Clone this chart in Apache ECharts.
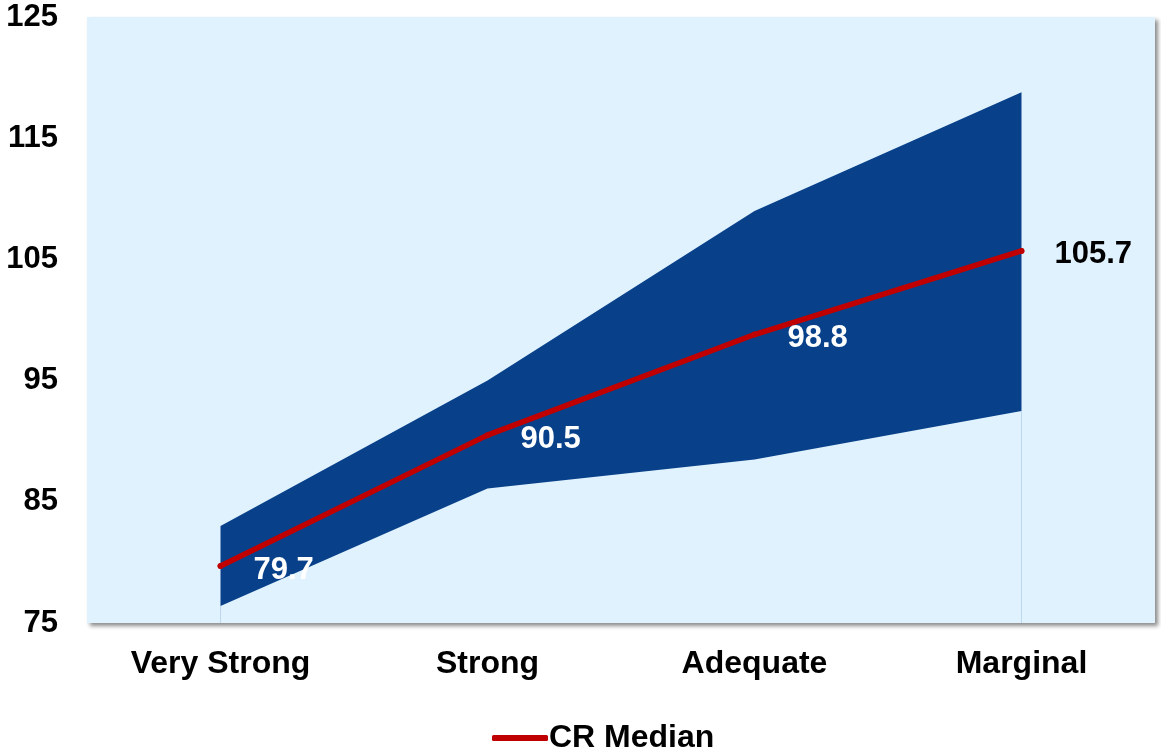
<!DOCTYPE html>
<html>
<head>
<meta charset="utf-8">
<script src="https://cdn.jsdelivr.net/npm/echarts@6/dist/echarts.min.js"></script>
<style>
  html, body { margin: 0; padding: 0; background: #ffffff; }
  #chart { width: 1161px; height: 753px; }
</style>
</head>
<body>
<div id="chart"></div>
<script>
// Capital ratio by rating bucket: range (low–high) and median
const categories = ['Very Strong', 'Strong', 'Adequate', 'Marginal'];
const rangeLow  = [76.4, 86.1, 88.5, 92.5];
const rangeHigh = [83.0, 95.0, 109.0, 118.8];
const median    = [79.7, 90.5, 98.8, 105.7];
const yTicks    = [75, 85, 95, 105, 115, 125];

const FONT = '"Liberation Sans", Arial, sans-serif';
const bandSpan = rangeHigh.map((h, i) => +(h - rangeLow[i]).toFixed(2));
const labelColors = ['#ffffff', '#ffffff', '#ffffff', '#000000'];

const chart = echarts.init(document.getElementById('chart'), null, { renderer: 'canvas' });

chart.setOption({
  animation: false,
  backgroundColor: '#ffffff',
  grid: {
    left: 87, right: 6, top: 17, bottom: 130,
    show: true,
    backgroundColor: '#E0F2FE',
    borderWidth: 0,
    shadowColor: 'rgba(0,0,0,0.45)',
    shadowBlur: 4,
    shadowOffsetX: 3,
    shadowOffsetY: 3
  },
  legend: {
    data: ['CR Median'],
    left: 487,
    top: 717,
    icon: 'roundRect',
    itemWidth: 56,
    itemHeight: 6,
    itemGap: 10,
    textStyle: { fontFamily: FONT, fontWeight: 'bold', fontSize: 32, color: '#000000', padding: [0, 0, 0, -4] }
  },
  xAxis: {
    type: 'category',
    data: categories,
    boundaryGap: true,
    axisLine: { show: false },
    axisTick: { show: false },
    axisLabel: { margin: 25, fontFamily: FONT, fontWeight: 'bold', fontSize: 32, color: '#000000' },
    splitLine: { show: false }
  },
  yAxis: {
    type: 'value',
    min: yTicks[0],
    max: yTicks[yTicks.length - 1],
    interval: 10,
    axisLine: { show: false },
    axisTick: { show: false },
    splitLine: { show: false },
    axisLabel: {
      margin: 29, fontFamily: FONT, fontWeight: 'bold', fontSize: 31, color: '#000000',
      padding: [8, 0, 0, 0]
    }
  },
  series: [
    {
      name: 'Low',
      type: 'line',
      stack: 'range',
      data: rangeLow,
      symbol: 'none',
      lineStyle: { width: 0, opacity: 0 },
      areaStyle: { color: 'rgba(0,0,0,0)' },
      silent: true,
      markLine: {
        silent: true,
        symbol: 'none',
        label: { show: false },
        lineStyle: { color: '#BCD7EE', width: 1, type: 'solid' },
        data: [
          [{ coord: [categories[0], yTicks[0]] }, { coord: [categories[0], rangeLow[0]] }],
          [{ coord: [categories[3], yTicks[0]] }, { coord: [categories[3], rangeLow[3]] }]
        ]
      }
    },
    {
      name: 'Range',
      type: 'line',
      stack: 'range',
      data: bandSpan,
      symbol: 'none',
      lineStyle: { width: 0, opacity: 0 },
      areaStyle: { color: '#08418A', opacity: 1 },
      silent: true
    },
    {
      name: 'CR Median',
      type: 'line',
      data: median.map((v, i) => ({
        value: v,
        label: { color: labelColors[i] }
      })),
      symbol: 'circle',
      symbolSize: 6,
      showSymbol: true,
      color: '#C00000',
      itemStyle: { color: '#C00000', borderWidth: 0 },
      lineStyle: { color: '#C00000', width: 5.5, cap: 'round', join: 'round' },
      label: {
        show: true,
        position: 'right',
        distance: 30,
        offset: [0, 4],
        fontFamily: FONT,
        fontWeight: 'bold',
        fontSize: 31,
        formatter: p => p.value.toFixed(1)
      },
      z: 5
    }
  ]
});
</script>
</body>
</html>
